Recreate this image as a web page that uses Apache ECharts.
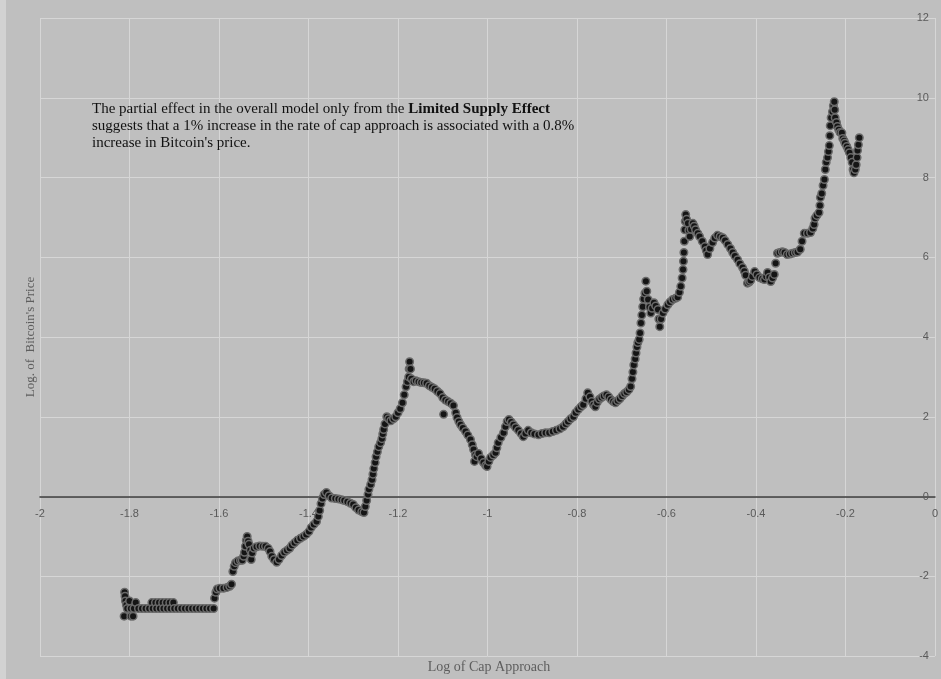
<!DOCTYPE html>
<html>
<head>
<meta charset="utf-8">
<script src="https://cdn.jsdelivr.net/npm/echarts@6/dist/echarts.min.js"></script>
<style>
html,body{margin:0;padding:0;background:#bfbfbf;}
#chart{width:941px;height:679px;}
</style>
</head>
<body>
<div id="chart"></div>
<script>
// Tick values
const xTicks = { min: -2, max: 0, step: 0.2 };
const yTicks = { min: -4, max: 12, step: 2 };

// Log of Cap Approach vs Log of Bitcoin's Price
const earlyPhase = [
[-1.812,-3.0],[-1.811,-2.4],[-1.810,-2.5],[-1.809,-2.62],[-1.807,-2.72],[-1.805,-2.81],[-1.800,-2.62],[-1.797,-2.81],[-1.797,-3.0],[-1.792,-3.0],[-1.790,-2.81],[-1.786,-2.66],[-1.780,-2.81],[-1.772,-2.81],[-1.764,-2.81],[-1.756,-2.81],[-1.750,-2.66],[-1.748,-2.81],[-1.742,-2.66],[-1.740,-2.81],[-1.734,-2.66],[-1.732,-2.81],[-1.726,-2.66],[-1.724,-2.81],[-1.718,-2.66],[-1.716,-2.81],[-1.710,-2.66],[-1.708,-2.81],[-1.702,-2.66],[-1.700,-2.81],[-1.692,-2.81],[-1.684,-2.81],[-1.676,-2.81],[-1.668,-2.81],[-1.660,-2.81],[-1.652,-2.81],[-1.644,-2.81],[-1.636,-2.81],[-1.628,-2.81],[-1.620,-2.81],[-1.612,-2.81],
[-1.610,-2.55],[-1.607,-2.4],[-1.604,-2.32],[-1.598,-2.3],[-1.590,-2.3],[-1.582,-2.28],[-1.576,-2.25],[-1.572,-2.2],
[-1.569,-1.88],[-1.566,-1.75],[-1.563,-1.66],[-1.558,-1.62],[-1.552,-1.6],[-1.548,-1.6],[-1.545,-1.5],[-1.543,-1.4],[-1.541,-1.25],[-1.539,-1.1],[-1.537,-1.0],[-1.535,-1.12],[-1.533,-1.2],[-1.530,-1.35],[-1.528,-1.58],[-1.526,-1.42],[-1.522,-1.3],[-1.516,-1.26],[-1.509,-1.24],[-1.502,-1.25],[-1.496,-1.25],[-1.490,-1.3],[-1.486,-1.38],[-1.482,-1.5],[-1.477,-1.58],[-1.471,-1.65],[-1.466,-1.58],[-1.460,-1.48],[-1.454,-1.4],[-1.448,-1.35],[-1.442,-1.3],[-1.437,-1.22],[-1.431,-1.16],[-1.425,-1.1],[-1.418,-1.05],[-1.411,-1.0],[-1.405,-0.95],[-1.399,-0.88],[-1.394,-0.78],[-1.388,-0.7],[-1.382,-0.63],[-1.378,-0.5],[-1.375,-0.35],[-1.372,-0.18],[-1.369,-0.05],[-1.365,0.05],[-1.360,0.1],[-1.354,0.02],[-1.348,-0.04],[-1.340,-0.05],[-1.333,-0.06],[-1.326,-0.08],[-1.320,-0.1],[-1.313,-0.13],[-1.306,-0.17],[-1.300,-0.2],[-1.294,-0.28],[-1.288,-0.34],[-1.281,-0.38],[-1.276,-0.4],[-1.273,-0.25],[-1.270,-0.1],[-1.267,0.05],[-1.265,0.18]
];
const midPhase = [
[-1.261,0.3],[-1.258,0.42],[-1.256,0.56],[-1.254,0.7],[-1.251,0.85],[-1.249,1.0],[-1.246,1.12],[-1.243,1.25],[-1.239,1.35],[-1.236,1.45],[-1.234,1.57],[-1.232,1.68],[-1.229,1.82],[-1.225,2.0],[-1.221,1.95],[-1.216,1.9],[-1.210,1.95],[-1.205,2.0],[-1.200,2.1],[-1.195,2.2],[-1.190,2.35],[-1.186,2.55],[-1.182,2.75],[-1.179,2.88],[-1.176,3.0],[-1.175,3.2],[-1.174,3.38],[-1.172,3.2],[-1.170,2.95],[-1.165,2.88],[-1.160,2.9],[-1.154,2.88],[-1.148,2.86],[-1.142,2.85],[-1.136,2.84],[-1.130,2.78],[-1.124,2.74],[-1.118,2.7],[-1.112,2.64],[-1.106,2.58],[-1.100,2.48],[-1.098,2.06],[-1.094,2.42],[-1.088,2.38],[-1.082,2.34],[-1.076,2.28],[-1.071,2.1],[-1.068,1.98],[-1.064,1.88],[-1.060,1.8],[-1.055,1.72],[-1.049,1.63],[-1.044,1.54],[-1.038,1.43],[-1.034,1.3],[-1.031,1.18],[-1.027,1.05],[-1.029,0.88],[-1.024,1.0],[-1.020,1.08],[-1.014,0.95],[-1.009,0.85],[-1.004,0.78],[-1.001,0.75],[-0.997,0.88],[-0.993,0.98],[-0.987,1.04],[-0.982,1.1],[-0.979,1.22],[-0.976,1.35],[-0.970,1.48],[-0.964,1.6],[-0.960,1.75],[-0.956,1.88],[-0.952,1.93],[-0.947,1.87],[-0.942,1.8],[-0.937,1.73],[-0.931,1.66],[-0.925,1.58],[-0.920,1.5],[-0.915,1.58],[-0.909,1.66],[-0.902,1.6],[-0.895,1.57],[-0.886,1.55],[-0.878,1.58],[-0.870,1.6],[-0.862,1.6],[-0.854,1.63],[-0.846,1.66],[-0.838,1.7],[-0.831,1.75],[-0.825,1.82],[-0.820,1.88],[-0.814,1.95],[-0.808,2.0],[-0.803,2.1],[-0.797,2.18],[-0.791,2.25],[-0.786,2.3],[-0.780,2.45],[-0.776,2.6],[-0.771,2.5],[-0.767,2.38],[-0.763,2.3],[-0.759,2.25],[-0.755,2.36],[-0.750,2.44],[-0.745,2.48],[-0.740,2.52],[-0.734,2.55],[-0.729,2.5],[-0.724,2.43],[-0.719,2.38],[-0.714,2.35],[-0.709,2.4],[-0.704,2.45],[-0.699,2.52],[-0.694,2.58],[-0.689,2.62],[-0.684,2.68],[-0.680,2.76]
];
const latePhase = [
[-0.677,2.95],[-0.675,3.12],[-0.673,3.3],[-0.670,3.45],[-0.668,3.6],[-0.666,3.75],[-0.664,3.86],[-0.661,3.94],[-0.659,4.1],[-0.657,4.35],[-0.655,4.55],[-0.653,4.76],[-0.651,4.95],[-0.648,5.1],[-0.646,5.4],[-0.644,5.15],[-0.641,4.94],[-0.638,4.75],[-0.635,4.6],[-0.632,4.72],[-0.628,4.86],[-0.624,4.78],[-0.619,4.69],[-0.617,4.45],[-0.615,4.26],[-0.612,4.45],[-0.608,4.6],[-0.603,4.7],[-0.597,4.81],[-0.592,4.88],[-0.586,4.94],[-0.580,4.97],[-0.575,5.0],[-0.571,5.12],[-0.568,5.27],[-0.565,5.48],[-0.563,5.69],[-0.562,5.9],[-0.561,6.12],[-0.560,6.4],[-0.559,6.69],[-0.558,6.9],[-0.557,7.07],[-0.555,6.95],[-0.552,6.85],[-0.550,6.68],[-0.548,6.52],[-0.545,6.7],[-0.541,6.85],[-0.538,6.78],[-0.535,6.69],[-0.530,6.6],[-0.526,6.52],[-0.520,6.4],[-0.514,6.27],[-0.511,6.17],[-0.508,6.07],[-0.503,6.22],[-0.497,6.37],[-0.492,6.48],[-0.486,6.55],[-0.480,6.52],[-0.474,6.49],[-0.469,6.42],[-0.463,6.32],[-0.457,6.22],[-0.452,6.12],[-0.447,6.03],[-0.441,5.94],[-0.436,5.84],[-0.430,5.74],[-0.426,5.65],[-0.423,5.55],[-0.419,5.35],[-0.415,5.38],[-0.412,5.42],[-0.408,5.52],[-0.403,5.64],[-0.398,5.56],[-0.392,5.49],[-0.386,5.46],[-0.381,5.44],[-0.377,5.52],[-0.374,5.62],[-0.370,5.5],[-0.367,5.39],[-0.363,5.48],[-0.359,5.57],[-0.356,5.85],[-0.352,6.1],[-0.347,6.12],[-0.341,6.14],[-0.336,6.12],[-0.330,6.07],[-0.324,6.08],[-0.318,6.1],[-0.312,6.12],[-0.307,6.13],[-0.301,6.2],[-0.297,6.4],[-0.292,6.6],[-0.285,6.6],[-0.278,6.62],[-0.273,6.72],[-0.270,6.82],[-0.268,6.98],[-0.264,7.05],[-0.259,7.12],[-0.257,7.3],[-0.256,7.5],[-0.253,7.6],[-0.250,7.8],[-0.247,7.95],[-0.245,8.2],[-0.243,8.38],[-0.240,8.5],[-0.238,8.65],[-0.236,8.8],[-0.235,9.05],[-0.234,9.3],[-0.232,9.5],[-0.229,9.65],[-0.227,9.8],[-0.225,9.9],[-0.224,9.7],[-0.223,9.5],[-0.220,9.38],[-0.218,9.28],[-0.215,9.2],[-0.212,9.13],[-0.208,9.12],[-0.206,8.98],[-0.203,8.92],[-0.201,8.86],[-0.197,8.78],[-0.194,8.7],[-0.191,8.62],[-0.188,8.5],[-0.185,8.38],[-0.183,8.2],[-0.181,8.12],[-0.178,8.2],[-0.176,8.32],[-0.174,8.5],[-0.173,8.68],[-0.171,8.82],[-0.169,9.0]
];

const xTitle = 'Log of Cap Approach';
const yTitle = "Log. of  Bitcoin's Price";
const noteText = 'The partial effect in the overall model only from the {b|Limited Supply Effect}\nsuggests that a 1% increase in the rate of cap approach is associated with a 0.8%\nincrease in Bitcoin\'s price.';

const chart = echarts.init(document.getElementById('chart'), null, {renderer: 'canvas'});
const labelFont = '"Liberation Sans", Arial, sans-serif';
const serifFont = '"Liberation Serif", "DejaVu Serif", serif';

const gridTop = 18, gridBottom = 23, H = 679;
const plotH = H - gridTop - gridBottom;
// distance from grid bottom to the zero line (computed from the y range)
const zeroFromBottom = plotH * (0 - yTicks.min) / (yTicks.max - yTicks.min);

chart.setOption({
  backgroundColor: '#bfbfbf',
  animation: false,
  grid: { left: 40, right: 3, top: gridTop, bottom: gridBottom, containLabel: false },
  xAxis: {
    type: 'value', min: xTicks.min, max: xTicks.max, interval: xTicks.step,
    position: 'bottom', offset: -zeroFromBottom,
    axisLine: { show: true, onZero: false, lineStyle: { color: '#3a3a3a', width: 1.5 } },
    axisTick: { show: false },
    axisLabel: { color: '#5a5a5a', fontSize: 11, fontFamily: labelFont, margin: 12, showMaxLabel: true, showMinLabel: true },
    splitLine: { show: true, lineStyle: { color: '#d6d6d6', width: 1 } }
  },
  yAxis: {
    type: 'value', position: 'right', min: yTicks.min, max: yTicks.max, interval: yTicks.step,
    axisLine: { show: false },
    axisTick: { show: false },
    axisLabel: { inside: true, color: '#5a5a5a', fontSize: 11, fontFamily: labelFont, margin: 6 },
    splitLine: { show: true, lineStyle: { color: '#d6d6d6', width: 1 } }
  },
  series: [earlyPhase, midPhase, latePhase].map(d => ({
    type: 'scatter',
    data: d,
    symbol: 'circle',
    symbolSize: 7.5,
    z: 5,
    itemStyle: { color: '#151515', borderColor: '#6a6a6a', borderWidth: 1.5, opacity: 1 },
    silent: true
  })),
  graphic: [
    { type: 'rect', left: 0, top: 0, z: 100, shape: { width: 6, height: 679 }, style: { fill: '#d2d2d2' }, silent: true },
    { type: 'text', left: 92, top: 101, z: 100,
      style: { text: noteText, fill: '#111111', font: '15px ' + serifFont, lineHeight: 17,
        rich: { b: { fontWeight: 'bold', fontSize: 15, fontFamily: serifFont, fill: '#111111' } } } },
    { type: 'text', x: 489, y: 667, z: 100,
      style: { text: xTitle, fill: '#5e5e5e', font: '14px ' + serifFont, textAlign: 'center', textVerticalAlign: 'middle' } },
    { type: 'text', x: 31, y: 337, z: 100, rotation: Math.PI / 2,
      style: { text: yTitle, fill: '#5e5e5e', font: '13px ' + serifFont, textAlign: 'center', textVerticalAlign: 'middle' } }
  ]
});
</script>
</body>
</html>
